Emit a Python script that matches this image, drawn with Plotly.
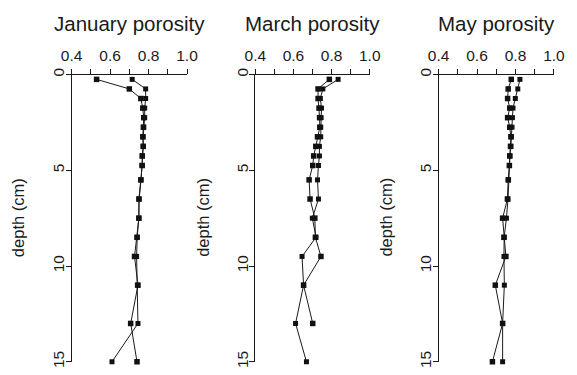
import plotly.graph_objects as go

depth = [0.25, 0.75, 1.25, 1.75, 2.25, 2.75, 3.25, 3.75, 4.25, 4.75,
         5.5, 6.5, 7.5, 8.5, 9.5, 11, 13, 15]

jan_a = [0.53, 0.70, 0.76, 0.77, 0.775, 0.773, 0.770, 0.772, 0.767, 0.767,
         0.760, 0.750, 0.750, 0.740, 0.727, 0.745, 0.707, 0.740]
jan_b = [0.715, 0.785, 0.785, 0.780, 0.780, 0.775, 0.772, 0.773, 0.768, 0.766,
         0.761, 0.751, 0.749, 0.741, 0.738, 0.742, 0.745, 0.610]

mar_a = [0.788, 0.729, 0.729, 0.734, 0.737, 0.738, 0.726, 0.717, 0.706, 0.701,
         0.682, 0.687, 0.712, 0.715, 0.744, 0.653, 0.701, None]
mar_b = [0.834, 0.754, 0.741, 0.747, 0.745, 0.743, 0.743, 0.736, 0.736, 0.731,
         0.726, 0.731, 0.699, 0.718, 0.645, 0.653, 0.611, 0.668]

may_a = [0.778, 0.762, 0.759, 0.770, 0.759, 0.770, 0.776, 0.774, 0.770, 0.768,
         0.762, 0.758, 0.733, 0.740, 0.750, 0.695, 0.733, 0.680]
may_b = [0.823, 0.812, 0.799, 0.787, 0.784, 0.782, 0.779, 0.776, 0.771, 0.769,
         0.764, 0.761, 0.753, 0.741, 0.740, 0.742, 0.733, 0.733]

titles = ["January porosity", "March porosity", "May porosity"]
x_tickvals = [0.4, 0.5, 0.6, 0.7, 0.8, 0.9, 1.0]
x_ticktext = ["0.4", "", "0.6", "", "0.8", "", "1.0"]
y_tickvals = [0, 5, 10, 15]
y_ticktext = ["0", "5", "10", "15"]
y_title = "depth (cm)"

W, H = 577, 375
FONT = "Liberation Sans, Arial, Helvetica, sans-serif"
INK = "#1a1a1a"

# pixel layout of each panel: left edge, right edge, y-title x
panel_px = [(63, 183, 8), (254, 373, 200), (444.5, 564.5, 390)]
top_px, bot_px = 70, 367.5

series = [(jan_a, jan_b), (mar_a, mar_b), (may_a, may_b)]

fig = go.Figure()
annotations = []
for i, ((a, b), title, (x0, x1, tx)) in enumerate(zip(series, titles, panel_px)):
    xa = "x" if i == 0 else f"x{i+1}"
    ya = "y" if i == 0 else f"y{i+1}"
    for s, sz in ((a, 5.5), (b, 5)):
        fig.add_trace(go.Scatter(
            x=s, y=depth, mode="lines+markers", xaxis=xa, yaxis=ya,
            line=dict(color=INK, width=1),
            marker=dict(symbol="square", size=sz, color="#111111"),
            showlegend=False, cliponaxis=False, connectgaps=False))
    xkey = "xaxis" if i == 0 else f"xaxis{i+1}"
    ykey = "yaxis" if i == 0 else f"yaxis{i+1}"
    fig.update_layout(**{
        xkey: dict(domain=[x0 / W, x1 / W], anchor=ya, side="top",
                   range=[0.4, 1.0], tickvals=x_tickvals, ticktext=x_ticktext,
                   showline=True, linecolor=INK, linewidth=1, ticks="outside",
                   ticklen=5, tickcolor=INK, showgrid=False, zeroline=False,
                   ticklabelstandoff=1,
                   tickfont=dict(family=FONT, size=15.5, color=INK)),
        ykey: dict(domain=[1 - bot_px / H, 1 - top_px / H], anchor=xa,
                   range=[15, 0], tickvals=y_tickvals, ticktext=y_ticktext,
                   showline=True, linecolor=INK, linewidth=1, ticks="outside",
                   ticklen=5, tickcolor=INK, showgrid=False, zeroline=False,
                   tickangle=-90, ticklabelstandoff=-5,
                   tickfont=dict(family=FONT, size=15.5, color=INK)),
    })
    annotations.append(dict(text=title, xref="paper", yref="paper",
                            x=(x0 + x1) / 2 / W, y=1 - 17 / H,
                            xanchor="center", yanchor="middle", showarrow=False,
                            font=dict(family=FONT, size=20.5, color=INK)))
    annotations.append(dict(text=y_title, xref="paper", yref="paper",
                            x=tx / W, y=1 - 218 / H, textangle=-90,
                            xanchor="center", yanchor="middle", showarrow=False,
                            font=dict(family=FONT, size=16.5, color=INK)))

fig.update_layout(width=W, height=H, margin=dict(l=0, r=0, t=0, b=0),
                  paper_bgcolor="white", plot_bgcolor="white",
                  annotations=annotations)
fig.write_html("out.html")
